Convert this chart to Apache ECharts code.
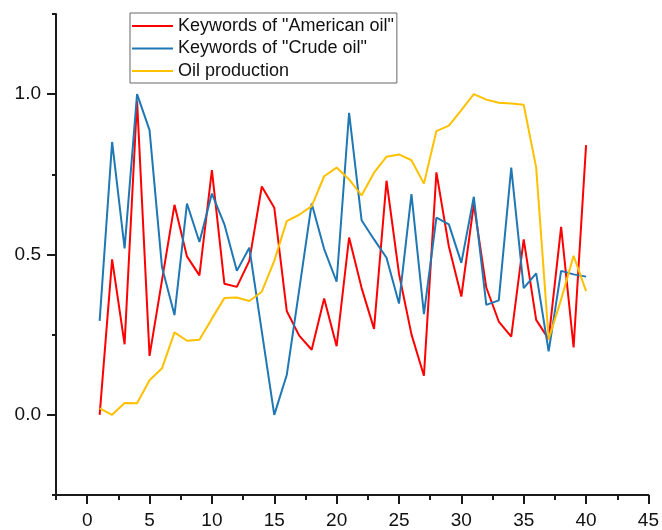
<!DOCTYPE html>
<html>
<head>
<meta charset="utf-8">
<script src="https://cdn.jsdelivr.net/npm/echarts@6/dist/echarts.min.js"></script>
<style>
  html, body { margin: 0; padding: 0; background: #ffffff; }
  #chart { width: 662px; height: 530px; }
</style>
</head>
<body>
<div id="chart"></div>
<script>
// ---- data ----
var xValues = [1,2,3,4,5,6,7,8,9,10,11,12,13,14,15,16,17,18,19,20,21,22,23,24,25,26,27,28,29,30,31,32,33,34,35,36,37,38,39,40];
var americanOil = [0.00,0.485,0.22,0.98,0.184,0.42,0.655,0.494,0.435,0.763,0.409,0.399,0.48,0.712,0.646,0.324,0.247,0.203,0.363,0.214,0.553,0.396,0.268,0.730,0.44,0.251,0.122,0.756,0.525,0.369,0.657,0.397,0.291,0.244,0.547,0.296,0.236,0.586,0.21,0.841];
var crudeOil = [0.293,0.851,0.519,1.0,0.888,0.46,0.311,0.659,0.539,0.69,0.594,0.449,0.521,0.26,0.0,0.124,0.39,0.659,0.517,0.415,0.942,0.607,0.547,0.49,0.347,0.688,0.314,0.615,0.594,0.474,0.68,0.343,0.357,0.771,0.395,0.441,0.198,0.449,0.438,0.431];
var oilProduction = [0.020,0.0,0.037,0.036,0.108,0.145,0.257,0.231,0.234,0.300,0.364,0.366,0.355,0.384,0.48,0.604,0.624,0.651,0.744,0.771,0.734,0.684,0.755,0.805,0.812,0.794,0.721,0.885,0.902,0.95,1.0,0.983,0.973,0.971,0.967,0.771,0.236,0.36,0.496,0.386];
var seriesNames = ['Keywords of "American oil"', 'Keywords of "Crude oil"', 'Oil production'];
var xTickLabels = [0,5,10,15,20,25,30,35,40,45];
var yTickLabels = [0,0.5,1.0];

function pairs(ys) { return xValues.map(function (x, i) { return [x, ys[i]]; }); }

var FONT = 'Liberation Sans, Arial, sans-serif';
var AXIS_COLOR = '#1a1a1a';

var chart = echarts.init(document.getElementById('chart'), null, { renderer: 'canvas' });
var option = {
  backgroundColor: '#ffffff',
  animation: false,
  textStyle: { fontFamily: FONT },
  legend: {
    orient: 'vertical', left: 130, top: 13, padding: [4, 3, 3, 2],
    icon: 'rect', itemWidth: 41, itemHeight: 2, itemGap: 4.5,
    borderColor: '#666666', borderWidth: 1,
    textStyle: { fontFamily: FONT, fontSize: 18, color: '#111', lineHeight: 18 },
    data: seriesNames
  },
  grid: { left: 56, right: 11, top: 14, bottom: 34, containLabel: false },
  xAxis: [{
    type: 'value', min: -2.5, max: 45, interval: 2.5,
    splitLine: { show: false },
    axisLine: { show: true, onZero: false, lineStyle: { color: AXIS_COLOR, width: 2 } },
    axisTick: { show: true, length: 5, lineStyle: { color: AXIS_COLOR, width: 2 } },
    axisLabel: { show: false }
  }, {
    type: 'value', position: 'bottom', offset: 0, min: -2.5, max: 45, interval: 2.5,
    splitLine: { show: false },
    axisLine: { show: false, onZero: false },
    axisTick: { show: true, length: 9, customValues: xTickLabels, lineStyle: { color: AXIS_COLOR, width: 2 } },
    axisLabel: { show: true, customValues: xTickLabels, margin: 16, fontFamily: FONT, fontSize: 19, color: '#111' }
  }],
  yAxis: [{
    type: 'value', min: -0.25, max: 1.25, interval: 0.25,
    splitLine: { show: false },
    axisLine: { show: true, onZero: false, lineStyle: { color: AXIS_COLOR, width: 2 } },
    axisTick: { show: true, length: 4, lineStyle: { color: AXIS_COLOR, width: 2 } },
    axisLabel: { show: false }
  }, {
    type: 'value', position: 'left', offset: 0, min: -0.25, max: 1.25, interval: 0.25,
    splitLine: { show: false },
    axisLine: { show: false, onZero: false },
    axisTick: { show: true, length: 9, customValues: yTickLabels, lineStyle: { color: AXIS_COLOR, width: 2 } },
    axisLabel: {
      show: true, customValues: yTickLabels, margin: 15, fontFamily: FONT, fontSize: 19, color: '#111',
      formatter: function (v) { return v.toFixed(1); }
    }
  }],
  series: [{
    name: seriesNames[0], type: 'line', symbol: 'none', lineStyle: { color: '#ff0000', width: 2 }, itemStyle: { color: '#ff0000' }, data: pairs(americanOil)
  }, {
    name: seriesNames[1], type: 'line', symbol: 'none', lineStyle: { color: '#1f77b4', width: 2 }, itemStyle: { color: '#1f77b4' }, data: pairs(crudeOil)
  }, {
    name: seriesNames[2], type: 'line', symbol: 'none', lineStyle: { color: '#ffc000', width: 2 }, itemStyle: { color: '#ffc000' }, data: pairs(oilProduction)
  }]
};
chart.setOption(option);
</script>
</body>
</html>
